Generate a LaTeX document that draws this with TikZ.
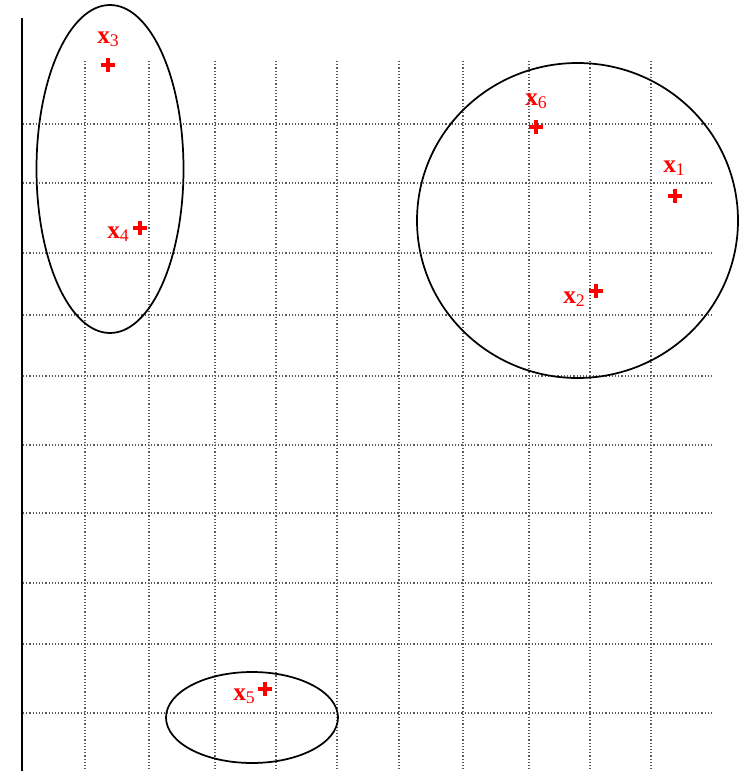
\documentclass[tikz,border=0pt]{standalone}
\usepackage{fontspec}
\setmainfont{Liberation Serif}
\usepackage{tikz}
\usetikzlibrary{positioning}
\tikzset{
  gridline/.style={line width=0.9pt, dash pattern=on 0.9pt off 1.5pt, black!65},
  blob/.style={draw, line width=1.3pt},
  ptlabel/.style={text=red, anchor=base west, inner sep=0pt, font=\fontsize{19}{21}\selectfont\bfseries},
  plusmark/.style={inner sep=0pt, minimum size=11pt,
    path picture={\draw[red, line width=2.6pt]
      (path picture bounding box.north) -- (path picture bounding box.south)
      (path picture bounding box.west) -- (path picture bounding box.east);}}
}
\begin{document}
\begin{tikzpicture}[x=0.75pt, y=-0.75pt]
        \useasboundingbox (0,0) rectangle (744,771);
        % grid
        \foreach \gx in {85,149,215,276,337,399,463,529,590,651}
          \draw[gridline] (\gx,61) -- (\gx,771);
        \foreach \gy in {124,183,253,315,376,445,513,583,644,713}
          \draw[gridline] (23,\gy) -- (714,\gy);
        \draw[line width=1.6pt] (22,18) -- (22,771);

        % clusters
        \draw[blob] (110,169) ellipse [x radius=73.5, y radius=164];
        \draw[blob] (577.5,220.5) ellipse [x radius=160.5, y radius=157.5];
        \draw[blob] (252,717.5) ellipse [x radius=86, y radius=45.5];

        \node[plusmark] (p1) at (675,196) {};
        \node[plusmark] (p2) at (596,291) {};
        \node[plusmark] (p3) at (108,65) {};
        \node[plusmark] (p4) at (140,228) {};
        \node[plusmark] (p5) at (265,689) {};
        \node[plusmark] (p6) at (536,127) {};

        \node[ptlabel] (l1) at (663,172) {x\textsubscript{\mdseries 1}};
        \node[ptlabel] (l2) at (563,303) {x\textsubscript{\mdseries 2}};
        \node[ptlabel] (l3) at (97,43) {x\textsubscript{\mdseries 3}};
        \node[ptlabel] (l4) at (107,238) {x\textsubscript{\mdseries 4}};
        \node[ptlabel] (l5) at (233,700) {x\textsubscript{\mdseries 5}};
        \node[ptlabel] (l6) at (525,105) {x\textsubscript{\mdseries 6}};
      \end{tikzpicture}
\end{document}
